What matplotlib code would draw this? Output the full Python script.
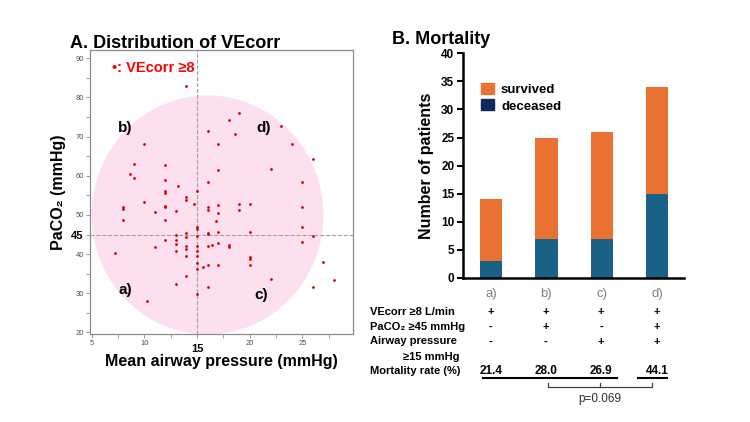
import matplotlib
matplotlib.use('Agg')
import matplotlib.pyplot as plt
from matplotlib.patches import Ellipse, Patch
import numpy as np

plt.rcParams['font.family'] = ['Liberation Sans', 'DejaVu Sans']

# --- panel A: scatter of cases with VEcorr >= 8
paw = [14, 16, 18, 19, 18.6, 23, 24, 17, 10, 9, 8.6, 9, 12, 12, 12, 12, 13.2, 16, 17, 22,
       25, 26, 8, 8, 8, 10, 11, 12, 12, 12, 13, 14, 14, 14.7, 15, 16, 16, 17, 17, 16.8,
       19, 19, 20, 25, 25, 15, 15, 14, 13, 16, 16, 17, 20, 26,
       7.2, 11, 12, 13, 13, 13, 14, 14, 14, 14, 14, 13, 10.3, 15, 15, 15, 15, 15, 15, 15,
       16, 16, 16, 16.4, 17, 17, 15.6, 18, 18, 20, 20, 20, 22, 25, 27, 28, 26]
paco2 = [82.8, 71.5, 74.3, 76.0, 70.7, 72.8, 68.0, 68.0, 68.0, 63.0, 60.5, 59.3, 62.8, 59.0, 56.0, 55.6, 57.5, 58.3, 61.5, 61.6,
         58.3, 64.2, 52.0, 51.6, 48.8, 53.4, 50.7, 52.3, 51.9, 48.6, 51.0, 54.6, 53.7, 52.9, 56.0, 52.0, 51.2, 52.6, 50.6, 48.4,
         52.9, 51.2, 52.7, 52.1, 47.0, 46.8, 46.3, 45.3, 44.9, 45.5, 45.2, 45.6, 45.7, 44.6,
         40.4, 41.7, 43.6, 43.6, 42.7, 40.8, 44.3, 42.0, 41.4, 39.4, 34.5, 32.4, 28.1, 44.7, 42.1, 40.8, 39.5, 37.6, 36.3, 29.7,
         42.0, 37.1, 31.6, 42.4, 42.9, 37.3, 36.8, 42.4, 41.7, 39.3, 38.7, 37.3, 33.7, 43.2, 38.0, 33.5, 31.5]

quad_labels = ['a)', 'b)', 'c)', 'd)']
quad_x = [8.2, 8.2, 21.1, 21.3]
quad_y = [30.8, 72.3, 29.5, 72.3]

# --- panel B: mortality
groups = ['a)', 'b)', 'c)', 'd)']
deceased = [3, 7, 7, 15]
total = [14, 25, 26, 34]
survived = [t - d for t, d in zip(total, deceased)]
ve_row = ['+', '+', '+', '+']
paco2_row = ['-', '+', '-', '+']
paw_row = ['-', '-', '+', '+']
mort_rate = ['21.4', '28.0', '26.9', '44.1']

W, H = 750, 422


def fx(px):
    return px / W


def fy(py):
    return 1 - py / H


fig = plt.figure(figsize=(7.5, 4.22), dpi=100)

# ---------------- panel A
ax1 = fig.add_axes([fx(90), fy(334), (353 - 90) / W, (334 - 50) / H])
ax1.set_xlim(4.85, 29.8)
ax1.set_ylim(19.6, 92.1)
ax1.add_patch(Ellipse((16, 50), 22, 61, facecolor='#fde0f0', edgecolor='none', zorder=0))
ax1.axvline(15, color='#a0a0a0', ls='--', lw=0.8, zorder=1)
ax1.axhline(45, color='#a0a0a0', ls='--', lw=0.8, zorder=1)
ax1.scatter(paw, paco2, s=4, color='#d40000', marker='o', linewidths=0, zorder=3)

for s in ax1.spines.values():
    s.set_color('#8c8c8c')
    s.set_linewidth(0.9)
ax1.set_xticks([5, 10, 15, 20, 25])
ax1.set_xticks([7.5, 12.5, 17.5, 22.5, 27.5], minor=True)
ax1.set_yticks([20, 30, 40, 45, 50, 60, 70, 80, 90])
ax1.set_yticks([25, 35, 55, 65, 75, 85], minor=True)
ax1.tick_params(which='both', length=3, width=0.6, color='#8c8c8c', labelsize=5.5,
                labelcolor='#405070', pad=1.5)
for lab in ax1.get_xticklabels():
    if lab.get_text() == '15':
        lab.set_fontsize(8)
        lab.set_fontweight('bold')
        lab.set_color('black')
        lab.set_y(-0.012)
for lab in ax1.get_yticklabels():
    if lab.get_text() == '45':
        lab.set_fontsize(8)
        lab.set_fontweight('bold')
        lab.set_color('black')

ax1.set_xlabel('Mean airway pressure (mmHg)', fontsize=11.5, fontweight='bold', labelpad=0)
ax1.set_ylabel('PaCO₂ (mmHg)', fontsize=11.5, fontweight='bold', labelpad=4)

for lab, x, y in zip(quad_labels, quad_x, quad_y):
    ax1.text(x, y, lab, fontsize=11, fontweight='bold', ha='center', va='center', zorder=4)

ax1.text(6.9, 87.5, '•: VEcorr ≥8', fontsize=10.5, fontweight='bold', color='#ff0000',
         ha='left', va='center')

fig.text(fx(70), fy(43), 'A. Distribution of VEcorr', fontsize=13, fontweight='bold',
         ha='left', va='center')

# ---------------- panel B
ax2 = fig.add_axes([fx(462.7), fy(278), (684 - 462.7) / W, (278 - 53.3) / H])
x = np.arange(len(groups))
ax2.bar(x, deceased, width=0.4, color='#1a6285')
ax2.bar(x, survived, width=0.4, bottom=deceased, color='#e97132')
ax2.set_xlim(-0.51, 3.48)
ax2.set_ylim(0, 40)
ax2.set_yticks(np.arange(0, 41, 5))
ax2.set_xticks(x)
ax2.set_xticklabels(groups, color='#808080', fontsize=9.5)
ax2.tick_params(axis='x', length=0, pad=7)
ax2.tick_params(axis='y', length=4, width=1.5, labelsize=8.5, pad=2)
for lab in ax2.get_yticklabels():
    lab.set_fontweight('bold')
ax2.spines['top'].set_visible(False)
ax2.spines['right'].set_visible(False)
ax2.spines['left'].set_linewidth(1.8)
ax2.spines['bottom'].set_linewidth(1.8)
ax2.set_ylabel('Number of patients', fontsize=11.5, fontweight='bold', labelpad=5)

handles = [Patch(color='#e97132'), Patch(color='#0e2a5c')]
ax2.legend(handles, ['survived', 'deceased'], loc='upper left', bbox_to_anchor=(0.03, 0.92),
           frameon=False, handlelength=1.0, handleheight=0.9, handletextpad=0.5,
           labelspacing=0.25, prop={'weight': 'bold', 'size': 9.5})

fig.text(fx(392), fy(40), 'B. Mortality', fontsize=13, fontweight='bold', ha='left', va='center')

# table under the bars
centers = [491, 546, 601, 657]
row_y = [312, 327, 341.5]
fig.text(fx(370), fy(312), 'VEcorr ≥8 L/min', fontsize=8, fontweight='bold', va='center')
fig.text(fx(370), fy(327), 'PaCO₂ ≥45 mmHg', fontsize=8, fontweight='bold', va='center')
fig.text(fx(370), fy(341.5), 'Airway pressure', fontsize=8, fontweight='bold', va='center')
fig.text(fx(460), fy(356.5), '≥15 mmHg', fontsize=8, fontweight='bold', va='center', ha='right')
fig.text(fx(370), fy(371), 'Mortality rate (%)', fontsize=8, fontweight='bold', va='center')
for row, yy in zip([ve_row, paco2_row, paw_row], row_y):
    for c, sign in zip(centers, row):
        fig.text(fx(c), fy(yy), sign, fontsize=8, fontweight='bold', ha='center', va='center')
for c, val in zip(centers, mort_rate):
    fig.text(fx(c), fy(370.5), val, fontsize=8.5, fontweight='bold', ha='center', va='center')

fig.add_artist(plt.Line2D([fx(482.5), fx(616.5)], [fy(377.7), fy(377.7)], color='black', lw=1.5))
fig.add_artist(plt.Line2D([fx(638), fx(667)], [fy(377.7), fy(377.7)], color='black', lw=1.5))
fig.add_artist(plt.Line2D([fx(548.3), fx(548.3), fx(652.3), fx(652.3)],
                          [fy(383), fy(386.7), fy(386.7), fy(383)], color='#404040', lw=0.9))
fig.add_artist(plt.Line2D([fx(600), fx(600)], [fy(386.7), fy(383)], color='#404040', lw=0.9))
fig.text(fx(600), fy(399), 'p=0.069', fontsize=8.5, ha='center', va='center', color='#303030')

fig.savefig('out.png', dpi=100)
